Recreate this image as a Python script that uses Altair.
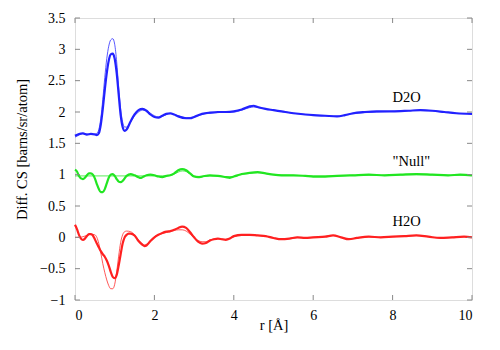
import altair as alt
import pandas as pd

# ---------------- data ----------------
d2o_data_r = [0, 0.1, 0.2, 0.3, 0.4, 0.5, 0.55, 0.6, 0.65, 0.7, 0.75, 0.8, 0.85, 0.9, 0.95, 1.0, 1.05, 1.1, 1.15, 1.2, 1.25, 1.3, 1.4, 1.5, 1.6, 1.7, 1.8, 1.9, 2.0, 2.1, 2.2, 2.3, 2.4, 2.5, 2.6, 2.8, 2.9, 3.0, 3.2, 3.4, 3.6, 3.8, 4.0, 4.2, 4.4, 4.5, 4.6, 4.8, 5.0, 5.2, 5.5, 5.8, 6.0, 6.3, 6.6, 6.8, 7.0, 7.3, 7.6, 8.0, 8.4, 8.7, 9.0, 9.3, 9.6, 10.0]
d2o_data_v = [1.62, 1.65, 1.66, 1.64, 1.65, 1.64, 1.63, 1.66, 1.80, 2.05, 2.35, 2.62, 2.82, 2.92, 2.93, 2.85, 2.62, 2.28, 1.95, 1.76, 1.70, 1.72, 1.85, 1.96, 2.03, 2.05, 2.02, 1.96, 1.92, 1.91, 1.94, 1.97, 1.98, 1.96, 1.93, 1.90, 1.90, 1.92, 1.97, 1.99, 2.00, 2.00, 2.01, 2.04, 2.09, 2.10, 2.08, 2.05, 2.03, 2.01, 1.98, 1.96, 1.95, 1.94, 1.93, 1.95, 1.98, 2.00, 2.01, 2.01, 2.02, 2.03, 2.02, 2.00, 1.98, 1.97]
d2o_model_r = [0, 0.1, 0.2, 0.3, 0.4, 0.5, 0.55, 0.6, 0.65, 0.7, 0.75, 0.8, 0.85, 0.9, 0.95, 1.0, 1.05, 1.1, 1.15, 1.2, 1.25, 1.3, 1.4, 1.5, 1.6, 1.7, 1.8, 1.9, 2.0, 2.1, 2.2, 2.3, 2.4, 2.5, 2.6, 2.8, 3.0, 3.2, 3.4, 3.6, 3.8, 4.0, 4.2, 4.4, 4.5, 4.6, 4.8, 5.0, 5.2, 5.5, 5.8, 6.0, 6.3, 6.6, 6.8, 7.0, 7.3, 7.6, 8.0, 8.4, 8.7, 9.0, 9.3, 9.6, 10.0]
d2o_model_v = [1.60, 1.63, 1.66, 1.65, 1.64, 1.65, 1.66, 1.72, 1.90, 2.20, 2.55, 2.85, 3.05, 3.15, 3.17, 3.08, 2.80, 2.40, 2.05, 1.84, 1.76, 1.76, 1.84, 1.94, 2.00, 2.03, 2.02, 1.98, 1.94, 1.92, 1.93, 1.96, 1.97, 1.96, 1.94, 1.91, 1.92, 1.96, 1.98, 1.99, 2.00, 2.00, 2.03, 2.07, 2.08, 2.07, 2.05, 2.03, 2.01, 1.98, 1.96, 1.95, 1.94, 1.93, 1.95, 1.97, 1.99, 2.00, 2.01, 2.02, 2.03, 2.02, 2.00, 1.98, 1.97]

null_data_r = [0, 0.05, 0.1, 0.15, 0.2, 0.25, 0.3, 0.35, 0.4, 0.45, 0.5, 0.55, 0.6, 0.65, 0.7, 0.75, 0.8, 0.85, 0.9, 0.95, 1.0, 1.05, 1.1, 1.15, 1.2, 1.3, 1.4, 1.5, 1.6, 1.65, 1.7, 1.8, 1.9, 2.0, 2.1, 2.2, 2.3, 2.4, 2.5, 2.6, 2.7, 2.8, 2.9, 3.0, 3.1, 3.2, 3.4, 3.6, 3.8, 3.9, 4.0, 4.2, 4.4, 4.6, 4.8, 5.0, 5.2, 5.5, 5.8, 6.0, 6.3, 6.6, 7.0, 7.4, 7.8, 8.2, 8.6, 9.0, 9.4, 9.7, 10.0]
null_data_v = [1.08, 1.05, 0.98, 0.94, 0.93, 0.95, 0.99, 1.02, 1.02, 1.00, 0.94, 0.85, 0.77, 0.72, 0.72, 0.77, 0.86, 0.95, 1.00, 1.01, 0.98, 0.93, 0.89, 0.88, 0.90, 0.98, 1.01, 0.99, 0.96, 0.95, 0.96, 0.99, 1.00, 0.99, 0.97, 0.96, 0.98, 0.99, 1.02, 1.07, 1.09, 1.07, 1.02, 0.97, 0.96, 0.97, 0.99, 0.98, 0.96, 0.95, 0.97, 1.01, 1.03, 1.04, 1.02, 1.00, 0.99, 0.99, 0.98, 0.97, 0.97, 0.98, 0.99, 1.00, 0.99, 1.00, 1.01, 1.00, 0.99, 1.00, 0.99]
null_model_r = [0, 0.5, 1.0, 1.5, 2.0, 2.4, 2.5, 2.6, 2.7, 2.8, 2.9, 3.0, 3.2, 3.4, 3.6, 3.8, 4.0, 4.2, 4.4, 4.6, 4.8, 5.0, 5.5, 6.0, 6.6, 7.0, 7.8, 8.6, 9.4, 10.0]
null_model_v = [0.98, 0.98, 0.98, 0.98, 0.98, 0.99, 1.01, 1.04, 1.06, 1.05, 1.01, 0.98, 0.97, 0.98, 0.98, 0.97, 0.97, 1.00, 1.02, 1.03, 1.02, 1.00, 0.99, 0.98, 0.98, 0.99, 0.99, 1.00, 0.99, 0.99]

h2o_data_r = [0, 0.05, 0.1, 0.15, 0.2, 0.25, 0.3, 0.35, 0.4, 0.45, 0.5, 0.55, 0.6, 0.65, 0.7, 0.75, 0.8, 0.85, 0.9, 0.95, 1.0, 1.05, 1.1, 1.15, 1.2, 1.25, 1.3, 1.35, 1.4, 1.5, 1.6, 1.7, 1.75, 1.8, 1.9, 2.0, 2.1, 2.2, 2.3, 2.4, 2.5, 2.6, 2.7, 2.8, 2.9, 3.0, 3.1, 3.2, 3.3, 3.4, 3.5, 3.6, 3.7, 3.8, 3.9, 4.0, 4.2, 4.4, 4.6, 4.8, 5.0, 5.2, 5.4, 5.6, 5.8, 6.0, 6.3, 6.5, 6.7, 6.9, 7.1, 7.4, 7.7, 8.0, 8.3, 8.6, 8.9, 9.2, 9.5, 9.8, 10.0]
h2o_data_v = [0.20, 0.13, 0.04, -0.02, -0.04, -0.02, 0.02, 0.05, 0.05, 0.03, -0.03, -0.10, -0.16, -0.22, -0.27, -0.31, -0.37, -0.45, -0.55, -0.63, -0.65, -0.60, -0.45, -0.27, -0.10, 0.00, 0.04, 0.06, 0.06, 0.03, -0.06, -0.12, -0.14, -0.13, -0.06, 0.00, 0.04, 0.07, 0.09, 0.10, 0.12, 0.15, 0.17, 0.15, 0.08, 0.00, -0.07, -0.10, -0.09, -0.05, -0.03, -0.02, -0.03, -0.04, -0.02, 0.02, 0.04, 0.04, 0.03, 0.02, -0.01, -0.03, -0.02, 0.00, -0.01, 0.00, 0.01, 0.03, 0.00, -0.03, -0.01, 0.01, 0.00, 0.01, 0.02, 0.03, 0.01, -0.01, 0.00, 0.01, 0.00]
h2o_model_r = [0, 0.1, 0.2, 0.3, 0.4, 0.5, 0.55, 0.6, 0.65, 0.7, 0.75, 0.8, 0.85, 0.9, 0.95, 1.0, 1.05, 1.1, 1.15, 1.2, 1.25, 1.3, 1.4, 1.5, 1.6, 1.7, 1.75, 1.8, 1.9, 2.0, 2.2, 2.4, 2.6, 2.7, 2.8, 2.9, 3.0, 3.1, 3.2, 3.3, 3.4, 3.6, 3.8, 4.0, 4.2, 4.4, 4.6, 4.8, 5.0, 5.2, 5.4, 5.6, 5.8, 6.0, 6.3, 6.5, 6.7, 6.9, 7.1, 7.4, 7.7, 8.0, 8.3, 8.6, 8.9, 9.2, 9.5, 9.8, 10.0]
h2o_model_v = [0.00, 0.00, 0.01, 0.03, 0.05, 0.04, 0.00, -0.10, -0.25, -0.42, -0.56, -0.68, -0.77, -0.82, -0.82, -0.75, -0.55, -0.30, -0.08, 0.04, 0.09, 0.10, 0.09, 0.04, -0.04, -0.10, -0.12, -0.11, -0.05, 0.01, 0.06, 0.09, 0.12, 0.12, 0.10, 0.05, -0.01, -0.05, -0.07, -0.07, -0.04, -0.02, -0.03, 0.01, 0.03, 0.04, 0.03, 0.02, -0.01, -0.03, -0.02, 0.00, -0.01, 0.00, 0.01, 0.03, 0.00, -0.03, -0.01, 0.01, 0.00, 0.01, 0.02, 0.03, 0.01, -0.01, 0.00, 0.01, 0.00]

series_names = ["D2O", "Null", "H2O"]
series_colors = ["#2222ff", "#22e622", "#ff2020"]
label_texts = ["D2O", "\"Null\"", "H2O"]
label_r = [8.0, 8.0, 8.0]
label_v = [2.23, 1.2, 0.24]

x_ticks = [0, 2, 4, 6, 8, 10]
y_ticks = [-1, -0.5, 0, 0.5, 1, 1.5, 2, 2.5, 3, 3.5]

# ---------------- tables ----------------
def frame(rs, vs, name):
    return pd.DataFrame({"r": rs, "v": vs, "series": name})

data_df = pd.concat([
    frame(d2o_data_r, d2o_data_v, "D2O"),
    frame(null_data_r, null_data_v, "Null"),
    frame(h2o_data_r, h2o_data_v, "H2O"),
])
model_df = pd.concat([
    frame(d2o_model_r, d2o_model_v, "D2O"),
    frame(null_model_r, null_model_v, "Null"),
    frame(h2o_model_r, h2o_model_v, "H2O"),
])
labels_df = pd.DataFrame({"r": label_r, "v": label_v, "text": label_texts})
xt_df = pd.DataFrame({"r": x_ticks})
yt_df = pd.DataFrame({"v": y_ticks})

W, H = 397, 282
FONT = "'Liberation Serif', 'Times New Roman', 'DejaVu Serif', serif"
TICK = "#888888"
TL = 5

xscale = alt.Scale(domain=[0, 10], nice=False, zero=False)
yscale = alt.Scale(domain=[-1, 3.5], nice=False, zero=False)
cscale = alt.Scale(domain=series_names, range=series_colors)

x_axis = alt.Axis(values=x_ticks, title="r [Å]", grid=False, ticks=False, tickSize=0,
                  domain=False, labelFont=FONT, labelFontSize=14, labelColor="black",
                  labelPadding=8, titleFont=FONT, titleFontSize=14.5, titleFontWeight="normal",
                  titleColor="black", titleX=W / 2, titleY=25, titleAlign="center",
                  titleBaseline="middle")
y_axis = alt.Axis(values=y_ticks, format="~g", title="Diff. CS [barns/sr/atom]", grid=False,
                  ticks=False, tickSize=0, domain=False, labelFont=FONT, labelFontSize=14,
                  labelColor="black", labelPadding=10, titleFont=FONT, titleFontSize=14.5,
                  titleFontWeight="normal", titleColor="black", titleAngle=-90,
                  titleX=-53, titleY=131, titleAlign="center", titleBaseline="middle")

X = alt.X("r:Q", scale=xscale, axis=x_axis)
Y = alt.Y("v:Q", scale=yscale, axis=y_axis)

thick = alt.Chart(data_df).mark_line(strokeWidth=2.2, interpolate="monotone").encode(
    x=X, y=Y,
    color=alt.Color("series:N", scale=cscale, legend=None),
    detail="series:N",
)
thin = alt.Chart(model_df).mark_line(strokeWidth=1, opacity=0.75, interpolate="monotone").encode(
    x=X, y=Y,
    color=alt.Color("series:N", scale=cscale, legend=None),
    detail="series:N",
)
labels = alt.Chart(labels_df).mark_text(align="left", baseline="middle", font=FONT,
                                        fontSize=14.5, color="black").encode(
    x=X, y=Y, text="text:N",
)
bottom_ticks = alt.Chart(xt_df).mark_rule(color=TICK, strokeWidth=1).encode(
    x=X, y=alt.value(H), y2=alt.value(H - TL))
top_ticks = alt.Chart(xt_df).mark_rule(color=TICK, strokeWidth=1).encode(
    x=X, y=alt.value(0), y2=alt.value(TL))
left_ticks = alt.Chart(yt_df).mark_rule(color=TICK, strokeWidth=1).encode(
    y=Y, x=alt.value(0), x2=alt.value(TL))
right_ticks = alt.Chart(yt_df).mark_rule(color=TICK, strokeWidth=1).encode(
    y=Y, x=alt.value(W), x2=alt.value(W - TL))

chart = alt.layer(thick, thin, labels, bottom_ticks, top_ticks, left_ticks, right_ticks).properties(
    width=W, height=H,
    autosize=alt.AutoSizeParams(type="none"),
    padding={"left": 67, "top": 10, "right": 20, "bottom": 42},
).configure_view(stroke="black", strokeWidth=1.2).configure(background="white")

chart.save("out.html", embed_options={"renderer": "svg", "actions": False})
